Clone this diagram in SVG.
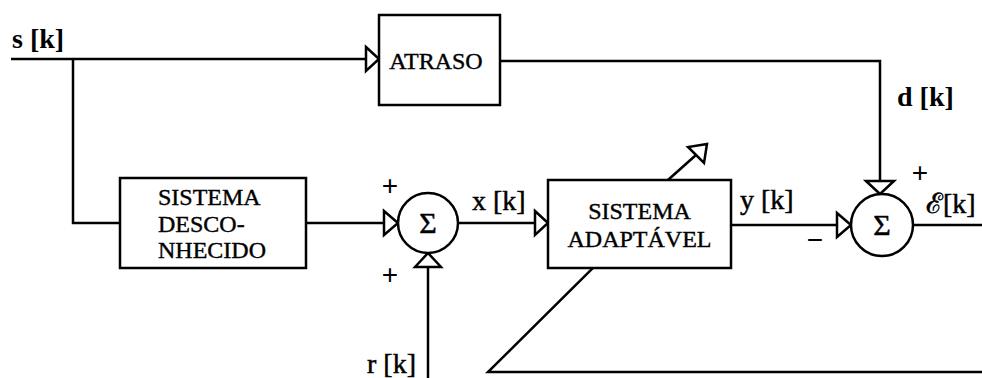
<svg xmlns="http://www.w3.org/2000/svg" width="982" height="378" viewBox="0 0 982 378">
<style>
.ln{fill:none;stroke:#000;stroke-width:2.5;stroke-linejoin:miter}
.bx{fill:#fff;stroke:#000;stroke-width:2.5}
.ah{fill:#fff;stroke:#000;stroke-width:2.5;stroke-linejoin:miter}
.bt{font-family:"Liberation Serif","Times New Roman",serif;font-size:24px;fill:#000;stroke:#000;stroke-width:0.4}
.lb{font-family:"Liberation Serif","Times New Roman",serif;font-size:28px;fill:#000;stroke:#000;stroke-width:0.5}
.lbb{font-family:"Liberation Serif","Times New Roman",serif;font-size:28px;font-weight:bold;fill:#000}
.sg{font-family:"Liberation Sans",sans-serif;font-size:28px;fill:#000;text-anchor:middle}
.sm{font-family:"Liberation Serif","DejaVu Serif",serif;font-size:30px;fill:#000;stroke:#000;stroke-width:0.5;text-anchor:middle}
</style>
<g id="connectors">
<polyline class="ln" points="11,59 366,59"/>
<polyline class="ln" points="73,59 73,223 120,223"/>
<polyline class="ln" points="500,61 880,61 880,181"/>
<polyline class="ln" points="306,223 384,223"/>
<polyline class="ln" points="428,267 428,378"/>
<polyline class="ln" points="458,223 535,223"/>
<polyline class="ln" points="731,225 837,225"/>
<polyline class="ln" points="913,225 982,225"/>
<polyline class="ln" points="982,372 488,372 593,268 668,180 696,155"/>
<polygon class="ah" points="366,47 379,59 366,71"/>
<polygon class="ah" points="384,211 398,223 384,235"/>
<polygon class="ah" points="415,267 428,253 441,267"/>
<polygon class="ah" points="535,211 548,223 535,235"/>
<polygon class="ah" points="837,213 851,225 837,237"/>
<polygon class="ah" points="866,181 880,194 894,181"/>
<polygon class="ah" points="707,144 688,147 704,163"/>
</g>
<g id="atraso">
<rect class="bx" x="379" y="15" width="121" height="90"/>
<text class="bt" x="436" y="69" text-anchor="middle">ATRASO</text>
</g>
<g id="sistema-desconhecido">
<rect class="bx" x="120" y="178" width="186" height="90"/>
<text class="bt" x="158" y="205">SISTEMA</text>
<text class="bt" x="158" y="232">DESCO-</text>
<text class="bt" x="158" y="258">NHECIDO</text>
</g>
<g id="sum1">
<circle class="bx" cx="428" cy="223" r="30"/>
<text class="sm" x="428" y="233">Σ</text>
<text class="sg" x="390" y="195">+</text>
<text class="sg" x="390" y="284">+</text>
</g>
<g id="sistema-adaptavel">
<rect class="bx" x="548" y="180" width="183" height="88"/>
<text class="bt" x="639.5" y="219" text-anchor="middle">SISTEMA</text>
<text class="bt" x="639.5" y="247" text-anchor="middle">ADAPTÁVEL</text>
</g>
<g id="sum2">
<circle class="bx" cx="882" cy="225" r="31"/>
<text class="sm" x="882" y="235">Σ</text>
<text class="sg" x="920" y="182">+</text>
<text class="sg" x="815" y="249">−</text>
</g>
<g id="labels">
<text class="lbb" x="12" y="48">s [k]</text>
<text class="lbb" x="897" y="106">d [k]</text>
<text class="lb" x="472" y="210">x [k]</text>
<text class="lb" x="740" y="209">y [k]</text>
<text class="lb" x="926" y="213">ℰ[k]</text>
<text class="lb" x="367" y="373">r [k]</text>
</g>
</svg>
